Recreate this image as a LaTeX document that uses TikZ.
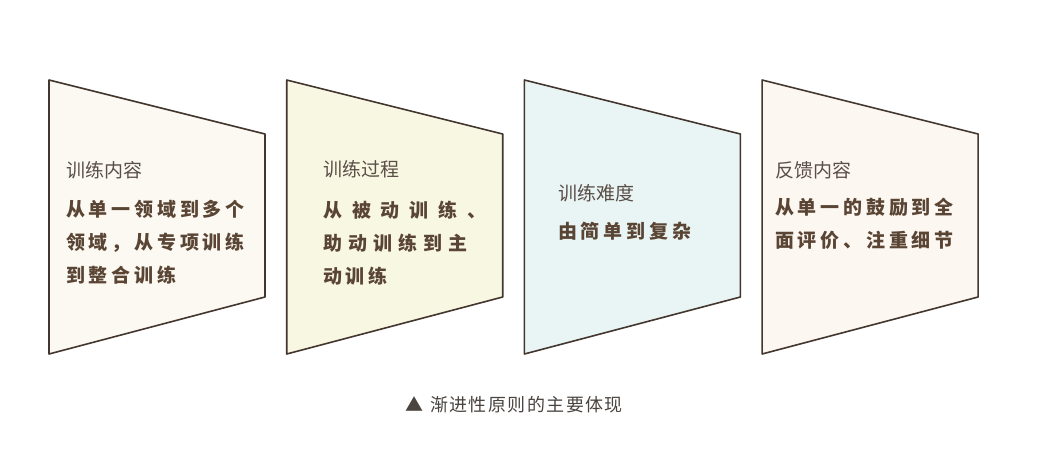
\documentclass[tikz,border=0pt]{standalone}
\usepackage{fontspec}
\setmainfont{Noto Sans CJK SC}
\newfontfamily\cjk{Noto Sans CJK SC}
\usetikzlibrary{positioning}
\definecolor{framecol}{HTML}{43362E}
\definecolor{headcol}{HTML}{5A4E48}
\definecolor{bodycol}{HTML}{5A4535}
\definecolor{capcol}{HTML}{4A4440}
\definecolor{fillA}{HTML}{FBF9F2}
\definecolor{fillB}{HTML}{F8F7E2}
\definecolor{fillC}{HTML}{E9F5F4}
\definecolor{fillD}{HTML}{FCF7F1}
\newcommand{\spaced}[2]{{\addfontfeature{LetterSpace=#1}#2}}

\begin{document}
\begin{tikzpicture}[x=1pt, y=-1pt,
	panel/.style={draw=framecol, line width=1.6pt, line join=round},
	heading/.style={font=\cjk\fontsize{19}{19}\selectfont, text=headcol, inner sep=0pt, anchor=west},
	bodytext/.style={font=\cjk\bfseries\fontsize{19}{33}\selectfont, text=bodycol, inner sep=0pt, anchor=north west, align=left},
	caption/.style={font=\cjk\fontsize{18}{18}\selectfont, text=capcol, inner sep=0pt}]
	\useasboundingbox[fill=white] (0,0) rectangle (1038,455);
	
	% the four panels
	\foreach \i/\col in {0/fillA, 1/fillB, 2/fillC, 3/fillD}
		\draw[panel, fill=\col] ({49+237.7*\i},80) -- ++(216,54) -- ++(0,163) -- ++(-216,57) -- cycle;
	
	\node[heading] (contenthead) at (66,170) {训练内容};
	\node[bodytext] (contentbody) at (66,200) {\spaced{20}{从单一领域到多个}\\\spaced{20}{领域，从专项训练}\\\spaced{20}{到整合训练}};
	
	\node[heading] (processhead) at (323,169) {训练过程};
	\node[bodytext] (processbody) at (323,201) {\spaced{52}{从被动训练、}\\\spaced{32}{助动训练到主}\\\spaced{20}{动训练}};
	
	\node[heading] (levelhead) at (558,193) {训练难度};
	\node[bodytext] (levelbody) at (558,222) {\spaced{20}{由简单到复杂}};
	
	\node[heading] (feedbackhead) at (775,170) {反馈内容};
	\node[bodytext] (feedbackbody) at (775,198) {\spaced{20}{从单一的鼓励到全}\\\spaced{20}{面评价、注重细节}};
	
	\node[caption] (caption) at (514,405) {▲\hspace{7pt}\spaced{8}{渐进性原则的主要体现}};
\end{tikzpicture}
\end{document}
